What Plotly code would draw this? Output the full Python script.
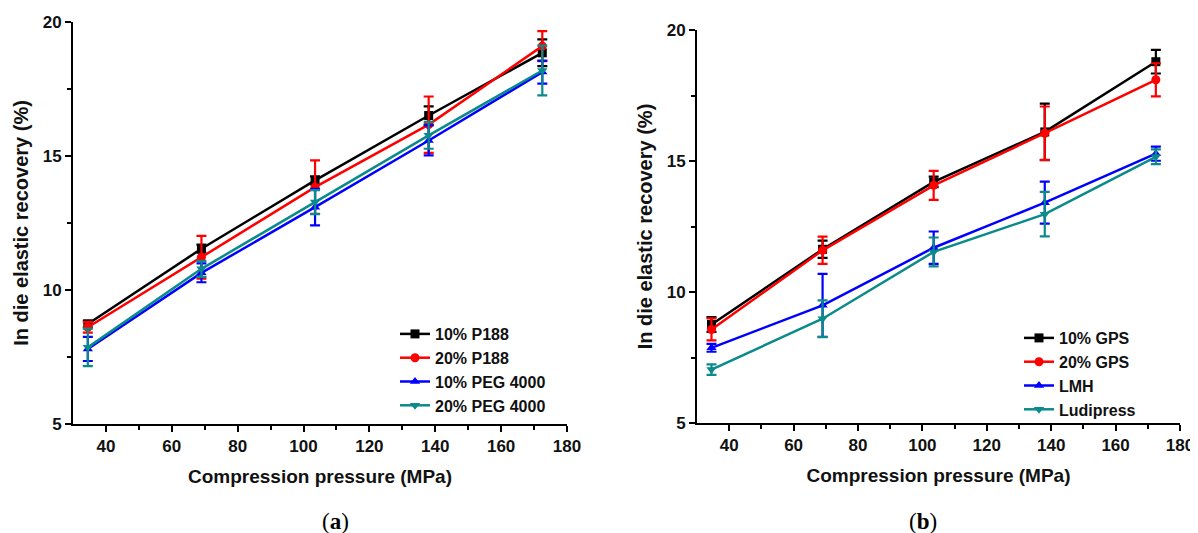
import plotly.graph_objects as go

pressure = [34.5, 69, 103.5, 138, 172.5]

# Panel (a)
a_names = ["10% P188", "20% P188", "10% PEG 4000", "20% PEG 4000"]
a_p188_10 = [8.73, 11.54, 14.09, 16.51, 18.85]
a_p188_10_err = [0.13, 0.15, 0.15, 0.34, 0.5]
a_p188_20 = [8.61, 11.22, 13.84, 16.17, 19.1]
a_p188_20_err = [0.2, 0.8, 1.0, 1.05, 0.56]
a_peg_10 = [7.8, 10.64, 13.09, 15.58, 18.13]
a_peg_10_err = [0.45, 0.35, 0.68, 0.56, 0.43]
a_peg_20 = [7.86, 10.79, 13.28, 15.77, 18.19]
a_peg_20_err = [0.7, 0.3, 0.45, 0.5, 0.93]

# Panel (b)
b_names = ["10% GPS", "20% GPS", "LMH", "Ludipress"]
b_gps_10 = [8.76, 11.63, 14.2, 16.11, 18.79]
b_gps_10_err = [0.28, 0.33, 0.2, 1.08, 0.45]
b_gps_20 = [8.57, 11.59, 14.07, 16.06, 18.1]
b_gps_20_err = [0.42, 0.52, 0.55, 1.02, 0.63]
b_lmh = [7.87, 9.49, 11.69, 13.41, 15.28]
b_lmh_err = [0.15, 1.2, 0.62, 0.8, 0.27]
b_ludi = [7.04, 8.98, 11.53, 12.97, 15.16]
b_ludi_err = [0.2, 0.7, 0.55, 0.85, 0.28]

colors = ["#000000", "#ff0000", "#0000ff", "#0a8a8a"]
symbols = ["square", "circle", "triangle-up", "triangle-down"]

fig = go.Figure()

def add(name, y, err, i, xa, ya, leg):
    fig.add_trace(go.Scatter(
        x=pressure, y=y, name=name, mode="lines+markers",
        line=dict(color=colors[i], width=2.5),
        marker=dict(symbol=symbols[i], size=9, color=colors[i]),
        error_y=dict(type="data", array=err, color=colors[i], thickness=2.2, width=5),
        xaxis=xa, yaxis=ya, legend=leg,
    ))

a_series = [a_p188_10, a_p188_20, a_peg_10, a_peg_20]
a_errs = [a_p188_10_err, a_p188_20_err, a_peg_10_err, a_peg_20_err]
b_series = [b_gps_10, b_gps_20, b_lmh, b_ludi]
b_errs = [b_gps_10_err, b_gps_20_err, b_lmh_err, b_ludi_err]

for i in range(4):
    add(a_names[i], a_series[i], a_errs[i], i, "x", "y", "legend")
for i in range(4):
    add(b_names[i], b_series[i], b_errs[i], i, "x2", "y2", "legend2")

# page has an 8px body margin: figure is drawn 8px right/down
W, H = 1190, 525
font_fam = "Liberation Sans, Arial, sans-serif"
tickfont = dict(family=font_fam, size=17, color="#111", weight="bold")
xtitlefont = dict(family=font_fam, size=19, color="#111", weight="bold")
ytitlefont = dict(family=font_fam, size=20, color="#111", weight="bold")

def xaxis(dom):
    return dict(domain=dom, range=[30, 180], tickmode="array", tickvals=[40, 60, 80, 100, 120, 140, 160, 180],
                showline=True, linecolor="black", linewidth=2, ticks="outside", ticklen=6, tickwidth=1.5,
                tickcolor="black", showgrid=False, zeroline=False, tickfont=tickfont, automargin=False,
                minor=dict(tickvals=[50, 70, 90, 110, 130, 150, 170], ticks="outside", ticklen=4, tickwidth=1.5, tickcolor="black"),
                title=dict(text="Compression pressure (MPa)", font=xtitlefont, standoff=14))

def yaxis(dom, anchor):
    return dict(domain=dom, anchor=anchor, range=[5, 20], tickvals=[5, 10, 15, 20],
                showline=True, linecolor="black", linewidth=2, ticks="outside", ticklen=6, tickwidth=1.5,
                tickcolor="black", showgrid=False, zeroline=False, tickfont=tickfont, automargin=False,
                minor=dict(tickvals=[7.5, 12.5, 17.5], ticks="outside", ticklen=4, tickwidth=1.5, tickcolor="black"),
                title=dict(text="In die elastic recovery (%)", font=ytitlefont, standoff=9))

legfont = dict(family=font_fam, size=16, color="#111", weight="bold")

fig.update_layout(
    width=W, height=H,
    margin=dict(l=0, r=0, t=0, b=0, autoexpand=False),
    paper_bgcolor="white", plot_bgcolor="white",
    xaxis=dict(anchor="y", **xaxis([65 / W, 559 / W])),
    yaxis=yaxis([1 - 416 / H, 1 - 14 / H], "x"),
    xaxis2=dict(anchor="y2", **xaxis([689 / W, 1172 / W])),
    yaxis2=yaxis([1 - 415 / H, 1 - 22 / H], "x2"),
    legend=dict(x=387 / W, y=1 - 309 / H, xanchor="left", yanchor="top", font=legfont,
                bgcolor="rgba(0,0,0,0)", tracegroupgap=0, itemwidth=30),
    legend2=dict(x=1011 / W, y=1 - 313 / H, xanchor="left", yanchor="top", font=legfont,
                 bgcolor="rgba(0,0,0,0)", tracegroupgap=0, itemwidth=30),
    showlegend=True,
    annotations=[
        dict(text="(<b>a</b>)", x=(65 + 559) / 2 / W, y=1 - 513 / H, xref="paper", yref="paper",
             yanchor="middle", showarrow=False, font=dict(family="Liberation Serif, serif", size=23, color="black")),
        dict(text="(<b>b</b>)", x=(689 + 1172) / 2 / W, y=1 - 513 / H, xref="paper", yref="paper",
             yanchor="middle", showarrow=False, font=dict(family="Liberation Serif, serif", size=23, color="black")),
    ],
)

fig.write_html("out.html")
